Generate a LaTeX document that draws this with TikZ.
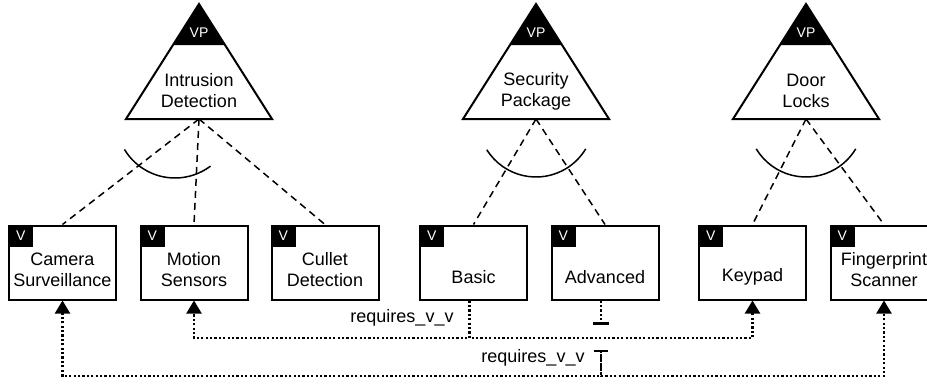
\documentclass[tikz,border=0pt]{standalone}
\usepackage{fontspec}
\setmainfont{Liberation Sans}
\usetikzlibrary{arrows.meta}
\usetikzlibrary{calc}
\usetikzlibrary{positioning}

% variation point: name, x, text
\newcommand{\vpoint}[3]{%
    \fill (#2,4) -- ++(-26,41) -- ++(52,0) -- cycle;
    \draw[vpline] (#2,4) -- ++(-73,115) -- ++(146,0) -- cycle;
    \node[vptag] at (#2,33) {VP};
    \node[align=center] at (#2,91) {#3};
    \coordinate (#1) at (#2,119);
}
% variant: name, x, text, text y
\newcommand{\variant}[4]{%
    \node[varbox] (#1) at (#2,262.5) {};
    \node[vtag, anchor=north west] at (#1.north west) {V};
    \node[align=center] at (#2,#4) {#3};
}

\begin{document}
\begin{tikzpicture}[x=1pt, y=-1pt, font=\fontsize{18}{21}\selectfont,
        vpline/.style={line width=2pt},
        vptag/.style={text=white, font=\fontsize{14}{16}\selectfont},
        varbox/.style={draw, line width=2pt, minimum width=107pt, minimum height=74pt},
        vtag/.style={fill=black, text=white, inner sep=0pt, minimum width=25pt, minimum height=22pt, font=\fontsize{14}{16}\selectfont},
        optline/.style={line width=1.5pt, dash pattern=on 7pt off 5pt},
        altarc/.style={line width=1.5pt},
        req/.style={line width=2.2pt, dash pattern=on 2.2pt off 2.2pt},
        reqtip/.style={-{Triangle[width=15pt, length=13pt]}}]
    \useasboundingbox (0,0) rectangle (927,386);

    \vpoint{ids}{199}{Intrusion\\Detection}
    \vpoint{pkg}{536}{Security\\Package}
    \vpoint{dlk}{806}{Door\\Locks}

    \variant{cam}{62.5}{Camera\\Surveillance}{270}
    \variant{mot}{194}{Motion\\Sensors}{270}
    \variant{cul}{325}{Cullet\\Detection}{270}
    \variant{bas}{473.5}{Basic}{277}
    \variant{adv}{605}{Advanced}{277}
    \variant{key}{752.5}{Keypad}{277}
    \variant{fps}{884}{Fingerprint\\Scanner}{270}

    % optional / alternative links
    \foreach \v in {cam,mot,cul}
        \draw[optline] (ids) -- (\v.north);
    \foreach \v in {bas,adv}
        \draw[optline] (pkg) -- (\v.north);
    \foreach \v in {key,fps}
        \draw[optline] (dlk) -- (\v.north);
    \draw[altarc] ($(ids)+(-24,0)$) ++(149:59) arc[start angle=149, end angle=53, radius=59];
    \draw[altarc] (pkg) ++(148:58) arc[start angle=148, end angle=31, radius=58];
    \draw[altarc] (dlk) ++(149:58) arc[start angle=149, end angle=31, radius=58];

    % requires constraints
    \coordinate (r1) at (0,338);
    \coordinate (r2) at (0,376);
    \draw[req, reqtip] ([xshift=-4pt]bas.south) |- (mot.south |- r1) -- (mot.south);
    \draw[req, reqtip] ([xshift=-4pt]bas.south) |- (key.south |- r1) -- (key.south);
    \draw[req, -{Bar[width=16pt]}] ([xshift=-4pt]adv.south) -- ++(0,24);
    \coordinate (b2) at ($(adv.south)+(-4,49)$);
    \draw[req, {Bar[width=14pt]}-{Triangle[width=15pt, length=13pt]}] (b2) |- (cam.south |- r2) -- (cam.south);
    \draw[req, reqtip] (b2) |- (fps.south |- r2) -- (fps.south);
    \node at (402,318) {requires\_v\_v};
    \node at (533,358) {requires\_v\_v};
\end{tikzpicture}
\end{document}
